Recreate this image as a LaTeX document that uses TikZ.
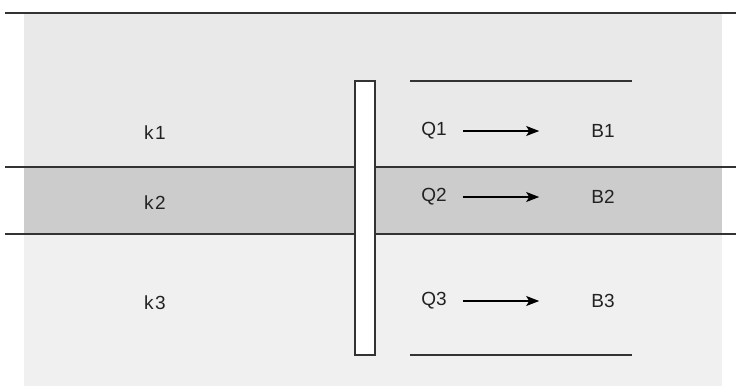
\documentclass[tikz,border=0pt]{standalone}
\usepackage{fontspec}
\setmainfont{Liberation Sans}
\usetikzlibrary{arrows.meta}
\definecolor{TopClr}{HTML}{E9E9E9}
\definecolor{MidClr}{HTML}{CCCCCC}
\definecolor{LowClr}{HTML}{F0F0F0}
\definecolor{LineClr}{HTML}{333333}
\definecolor{TxtClr}{HTML}{222222}

\begin{document}
\begin{tikzpicture}[x=1pt,y=-1pt,
  lbl/.style={inner sep=0pt,text=TxtClr,font=\fontsize{19}{21}\selectfont},
  flow/.style={line width=1.3pt,-{Stealth[length=13pt,width=10pt,inset=3pt]},
    shorten <=16pt,shorten >=52pt},
  rule/.style={line width=1.5pt,color=LineClr}]
\useasboundingbox (0,0) rectangle (736,386);

% bands
\fill[TopClr] (24,13) rectangle (722,167);
\fill[MidClr] (24,167) rectangle (722,234);
\fill[LowClr] (24,234) rectangle (722,386);

\draw[rule] (5,13) -- (736,13);
\draw[rule] (5,167) -- (736,167);
\draw[rule] (5,234) -- (736,234);

% barrier
\draw[line width=1.2pt,color=LineClr,fill=white] (355,81) rectangle (375,355);
\draw[rule] (410,81) -- (632,81);
\draw[rule] (410,355) -- (632,355);

\node[lbl] (k1) at (155,133) {k\kern1.5pt 1};
\node[lbl] (k2) at (155,203) {k\kern1.5pt 2};
\node[lbl] (k3) at (155,303) {k\kern1.5pt 3};

\foreach \i/\y in {1/131,2/197,3/301}{
  \node[lbl] (Q\i) at (434,\y) {Q\i};
  \node[lbl] (B\i) at (603,\y) {B\i};
  \draw[flow] (Q\i) -- (B\i);
}

\end{tikzpicture}
\end{document}
